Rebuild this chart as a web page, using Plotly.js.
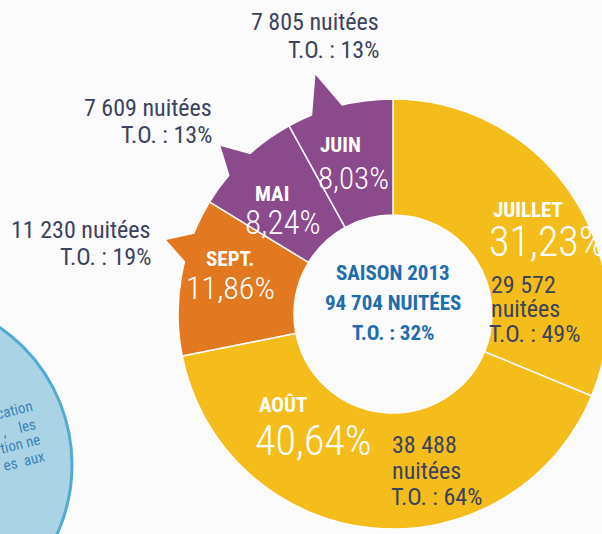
<!DOCTYPE html>
<html>
<head>
<meta charset="utf-8">
<script src="https://cdn.plot.ly/plotly-3.0.1.min.js"></script>
<style>
  html, body { margin: 0; padding: 0; background: #fbfbfb; overflow: hidden; width: 602px; height: 534px; }
  #chart { width: 640px; height: 580px; }
</style>
</head>
<body>
<div id="chart"></div>
<script>
// ---- data (as printed on the chart) ----
const months   = ['JUILLET', 'AOÛT', 'SEPT.', 'MAI', 'JUIN'];
const shares   = [31.23, 40.64, 11.86, 8.24, 8.03];      // % of season nights
const nuitees  = [29572, 38488, 11230, 7609, 7805];       // nights per month label
const occRate  = [49, 64, 19, 13, 13];                    // T.O. (%)
const season   = 'SAISON 2013';
const seasonTO = 32;
const colors   = ['#f5bd1c', '#f5bd1c', '#e2781f', '#8b4a8c', '#8b4a8c'];

// ---- geometry / style ----
const W = 640, H = 580;
const CX = 393, CY = 314, R = 215, HOLE = 99 / 215;
const FONT = "'Roboto Condensed', 'Liberation Sans Narrow', Roboto, sans-serif";
const DARK = '#3b435e', BLUE = '#1f6cae', WHITE = '#ffffff';

const fmtInt = n => String(n).replace(/\B(?=(\d{3})+(?!\d))/g, ' ');
const fmtPct = v => v.toFixed(2).replace('.', ',') + '%';
const total = nuitees.reduce((a, b) => a + b, 0);

const px2x = p => p / W;
const py2y = p => 1 - p / H;

// slice angle ranges (clockwise from 12 o'clock)
const sumShares = shares.reduce((a, b) => a + b, 0);
let acc = 0;
const ranges = shares.map(v => { const a0 = acc; acc += v / sumShares * 360; return [a0, acc]; });
const pt = (deg, r) => {
  const t = deg * Math.PI / 180;
  return [CX + r * Math.sin(t), CY - r * Math.cos(t)];
};

// callout spikes on the small slices (index, angle offset from slice middle, tip ratio)
const spikes = [[2, 8, 1.11], [3, -2, 1.12], [4, -3.5, 1.17]];
const shapes = [];
// decorative blue disc at bottom-left
shapes.push({
  type: 'circle', xref: 'paper', yref: 'paper', layer: 'below',
  x0: px2x(-95 - 167), x1: px2x(-95 + 167), y0: py2y(465 + 167), y1: py2y(465 - 167),
  fillcolor: '#aad4e6', line: { color: '#55aad4', width: 3 }
});
spikes.forEach(([i, off, ratio]) => {
  const mid = (ranges[i][0] + ranges[i][1]) / 2 + off;
  const b1 = pt(mid - 5, R * 0.97), tip = pt(mid, R * ratio), b2 = pt(mid + 5, R * 0.97);
  const path = `M ${px2x(b1[0])},${py2y(b1[1])} L ${px2x(tip[0])},${py2y(tip[1])} L ${px2x(b2[0])},${py2y(b2[1])} Z`;
  shapes.push({ type: 'path', xref: 'paper', yref: 'paper', layer: 'above', path: path,
    fillcolor: colors[i], line: { width: 0 } });
});

const ann = [];
function txt(x, y, text, size, color, opts = {}) {
  ann.push(Object.assign({
    xref: 'paper', yref: 'paper', x: px2x(x), y: py2y(y), text: text, showarrow: false,
    xanchor: 'left', yanchor: 'middle', borderpad: 0,
    font: { family: FONT, size: size, color: color, weight: opts.weight || 'normal' }
  }, opts.extra || {}));
}
const B = 'bold', L = 300;

// Juillet
txt(492, 210, months[0], 21, WHITE, { weight: B });
txt(488, 241, fmtPct(shares[0]), 42, WHITE, { weight: L });
txt(490, 285, fmtInt(nuitees[0]), 24, DARK);
txt(490, 309, 'nuitées', 24, DARK);
txt(488, 334, 'T.O. : ' + occRate[0] + '%', 24, DARK);
// Août
txt(258, 405, months[1], 21, WHITE, { weight: B });
txt(254, 440, fmtPct(shares[1]), 42, WHITE, { weight: L });
txt(391, 445, fmtInt(nuitees[1]), 24, DARK);
txt(391, 471, 'nuitées', 24, DARK);
txt(390, 497, 'T.O. : ' + occRate[1] + '%', 24, DARK);
// Sept., Mai, Juin (centered)
const ctr = (w) => ({ weight: w, extra: { xanchor: 'center' } });
txt(230, 259, months[2], 21, WHITE, ctr(B));
txt(230, 288, fmtPct(shares[2]), 32, WHITE, ctr(L));
txt(272, 194, months[3], 21, WHITE, ctr(B));
txt(283, 223, fmtPct(shares[3]), 33, WHITE, ctr(L));
txt(340, 145, months[4], 21, WHITE, ctr(B));
txt(353, 178, fmtPct(shares[4]), 31, WHITE, ctr(L));

// outside labels for small slices
const right = { extra: { xanchor: 'right' } };
txt(380, 22, fmtInt(nuitees[4]) + ' nuitées', 24, DARK, right);
txt(380, 50, 'T.O. : ' + occRate[4] + '%', 24, DARK, right);
txt(213, 108, fmtInt(nuitees[3]) + ' nuitées', 24, DARK, right);
txt(213, 135, 'T.O. : ' + occRate[3] + '%', 24, DARK, right);
txt(152, 230, fmtInt(nuitees[2]) + ' nuitées', 24, DARK, right);
txt(152, 257, 'T.O. : ' + occRate[2] + '%', 24, DARK, right);

// centre text
txt(393, 273, season, 21, BLUE, ctr(B));
txt(393, 303, fmtInt(total) + ' NUITÉES', 21, BLUE, ctr(B));
txt(393, 333, 'T.O. : ' + seasonTO + '%', 21, BLUE, ctr(B));

// fragments of the neighbouring text in the blue disc
const frag = { extra: { xanchor: 'right', textangle: -14 } };
txt(36, 410, 'cation', 15, '#3a82b5', frag);
txt(39, 428, ',    les', 15, '#3a82b5', frag);
txt(43, 444, 'tion ne', 15, '#3a82b5', frag);
txt(48, 461, 'es  aux', 15, '#3a82b5', frag);

const trace = {
  type: 'pie',
  values: shares,
  labels: months,
  sort: false,
  direction: 'clockwise',
  rotation: 0,
  hole: HOLE,
  textinfo: 'none',
  hoverinfo: 'label+percent',
  marker: { colors: colors, line: { color: '#ffffff', width: 1.5 } },
  domain: { x: [px2x(CX - R), px2x(CX + R)], y: [py2y(CY + R), py2y(CY - R)] }
};

Plotly.newPlot('chart', [trace], {
  width: W, height: H,
  margin: { l: 0, r: 0, t: 0, b: 0 },
  paper_bgcolor: '#fbfbfb',
  showlegend: false,
  shapes: shapes,
  annotations: ann
}, { displayModeBar: false, staticPlot: true });
</script>
</body>
</html>
